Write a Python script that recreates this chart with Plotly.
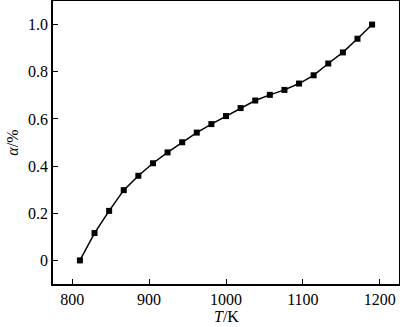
import plotly.graph_objects as go

temperature_K = [810, 829, 848, 867, 886, 905, 924, 943, 962, 981, 1000,
                 1019, 1038, 1057, 1076, 1095, 1114, 1133, 1152, 1171, 1190]
alpha = [0.0, 0.116, 0.210, 0.298, 0.359, 0.412, 0.458, 0.501, 0.542, 0.578, 0.612,
         0.646, 0.678, 0.702, 0.723, 0.750, 0.785, 0.835, 0.882, 0.940, 1.0]

x_ticks = [800, 900, 1000, 1100, 1200]
y_ticks = [0, 0.2, 0.4, 0.6, 0.8, 1.0]
y_tick_labels = ["0", "0.2", "0.4", "0.6", "0.8", "1.0"]

fig = go.Figure()
fig.add_trace(go.Scatter(
    x=temperature_K, y=alpha, mode="lines+markers",
    line=dict(color="black", width=1.5),
    marker=dict(symbol="square", size=6, color="black"),
    showlegend=False,
))

font = dict(family="Times New Roman, Liberation Serif, serif", size=16, color="black")

fig.update_layout(
    width=400, height=327,
    margin=dict(l=53, r=1, t=1, b=43),
    paper_bgcolor="white", plot_bgcolor="white",
    font=font,
    xaxis=dict(
        range=[775, 1225], tickvals=x_ticks, ticks="inside", ticklen=5,
        tickcolor="black", tickwidth=1, showline=True, linecolor="black",
        linewidth=1.5, mirror=True, showgrid=False, zeroline=False,
        automargin=False, tickfont=font,
    ),
    yaxis=dict(
        range=[-0.1, 1.1], tickvals=y_ticks, ticktext=y_tick_labels,
        ticks="inside", ticklen=5, tickcolor="black", tickwidth=1,
        showline=True, linecolor="black", linewidth=1.5, mirror=True,
        showgrid=False, zeroline=False, automargin=False, tickfont=font,
    ),
    annotations=[
        dict(text="<i>T</i>/K", xref="paper", yref="paper", x=0.5, y=-0.115,
             xanchor="center", yanchor="middle", showarrow=False, font=font),
        dict(text="<i>α</i>/%", xref="paper", yref="paper", x=-0.118, y=0.5,
             xanchor="center", yanchor="middle", textangle=-90, showarrow=False,
             font=font),
    ],
)

fig.write_html("out.html", config={"displayModeBar": False},
               post_script="document.body.style.margin='0px';")
